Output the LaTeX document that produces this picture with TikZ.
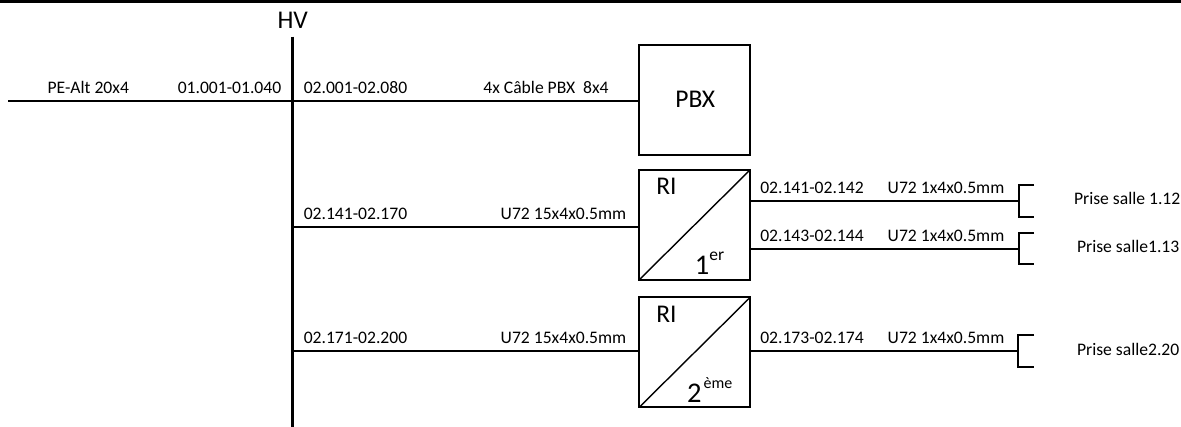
\documentclass[tikz,border=0pt]{standalone}
\usepackage{fontspec}
\setmainfont{Carlito}
\newcommand{\ordsup}[2]{\raisebox{14.6pt}{\fontsize{#1}{18}\selectfont #2}}
\tikzset{
  lbl/.style={inner sep=0pt,anchor=base,font=\fontsize{17.6}{19}\selectfont,text=black},
  big/.style={inner sep=0pt,anchor=base,font=\fontsize{25.5}{28}\selectfont,text=black},
  ordn/.style={inner sep=0pt,anchor=base west,font=\fontsize{28.5}{31}\selectfont,text=black},
  boxn/.style={draw,line width=2pt,minimum width=111pt,minimum height=110pt,inner sep=0pt,outer sep=0pt},
  wire/.style={line width=2pt},
  bus/.style={line width=3pt}
}
\begin{document}
\begin{tikzpicture}[x=1pt,y=-1pt]
\useasboundingbox (0,0) rectangle (1181,427);
\fill[black] (0,0) rectangle (1181,3);
% bus
\node[big] (hv) at (292.7,28.3) {HV};
\coordinate (bt) at (292.5,36.7);
\coordinate (bb) at (292.5,427);
\draw[bus] (bt) -- (bb);
% boxes
\node[boxn] (pbx) at (694.5,100) {};
\node[boxn] (ri1) at (694.5,225) {};
\node[boxn] (ri2) at (694.5,352.5) {};
\draw[line width=1.4pt] (ri1.south west) -- (ri1.north east);
\draw[line width=1.4pt] (ri2.south west) -- (ri2.north east);
\node[big] (tp) at (695.3,107.7) {PBX};
\node[big] (t1) at (666.5,195) {RI};
\node[big] (t2) at (666.5,323) {RI};
\node[ordn] (o1) at (694.7,275) {1\ordsup{17.5}{er}};
\node[ordn] (o2) at (687,403) {2\kern2pt\ordsup{16}{ème}};
% wires
\coordinate (w0) at (8.3,101);
\coordinate (b2) at (292.5,227);
\coordinate (b3) at (292.5,351);
\coordinate (p1) at (1019,201);
\coordinate (p2) at (1019,249);
\coordinate (p3) at (1018,351);
\draw[wire] (w0) -- (w0-|pbx.west);
\draw[wire] (b2) -- (b2-|ri1.west);
\draw[wire] (b3) -- (b3-|ri2.west);
\draw[wire] (p1-|ri1.east) -- (p1);
\draw[wire] (p2-|ri1.east) -- (p2);
\draw[wire] (p3-|ri2.east) -- (p3);
\draw[wire] (1034,185) -- (1019,185) -- (1019,217) -- (1034,217);
\draw[wire] (1034,233) -- (1019,233) -- (1019,264) -- (1034,264);
\draw[wire] (1034,335) -- (1018,335) -- (1018,367) -- (1034,367);
% labels
\node[lbl] (a1) at (88.3,94) {PE-Alt 20x4};
\node[lbl] (a2) at (229.5,94) {01.001-01.040};
\node[lbl] (a3) at (355.5,94) {02.001-02.080};
\node[lbl] (a4) at (546,94) {4x Câble PBX\ \ 8x4};
\node[lbl] (c1) at (355.5,219.3) {02.141-02.170};
\node[lbl] (c2) at (563.5,219.3) {U72 15x4x0.5mm};
\node[lbl] (d1) at (355.5,344) {02.171-02.200};
\node[lbl] (d2) at (563.5,344) {U72 15x4x0.5mm};
\node[lbl] (e1) at (812,194) {02.141-02.142};
\node[lbl] (e2) at (946,194) {U72 1x4x0.5mm};
\node[lbl] (f1) at (812,241.7) {02.143-02.144};
\node[lbl] (f2) at (946,241.7) {U72 1x4x0.5mm};
\node[lbl] (g1) at (812,343.5) {02.173-02.174};
\node[lbl] (g2) at (946,343.5) {U72 1x4x0.5mm};
\node[lbl,anchor=base east] (h1) at (1180.5,204.7) {Prise salle 1.12};
\node[lbl,anchor=base east] (h2) at (1179.5,252.7) {Prise salle1.13};
\node[lbl,anchor=base east] (h3) at (1179.5,355.7) {Prise salle2.20};
\end{tikzpicture}
\end{document}
